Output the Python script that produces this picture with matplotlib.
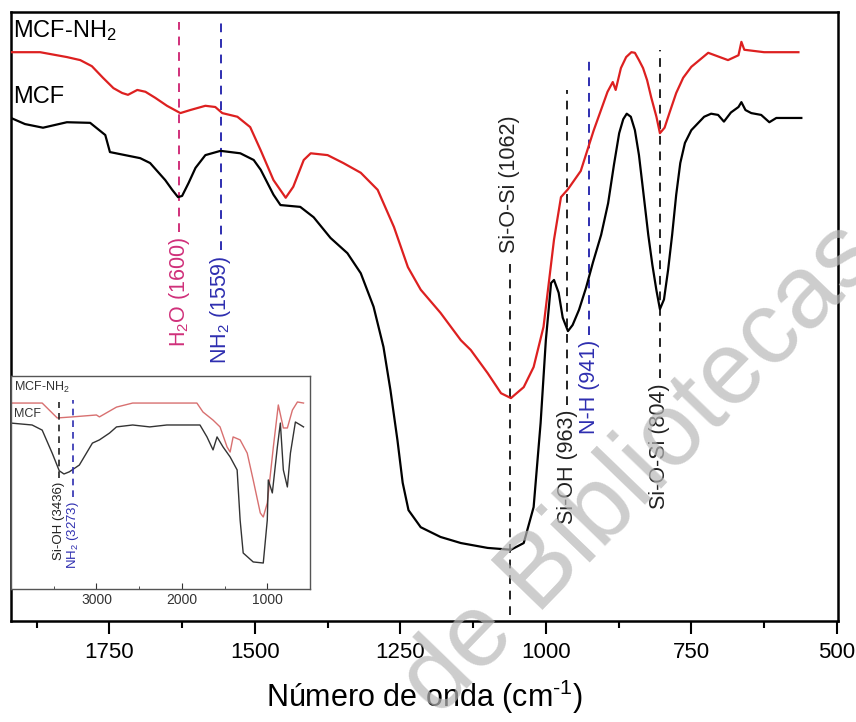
import numpy as np
import matplotlib
matplotlib.use('Agg')
import matplotlib.pyplot as plt
from matplotlib.ticker import MultipleLocator, FixedLocator

plt.rcParams['font.family'] = ['Liberation Sans', 'DejaVu Sans']
plt.rcParams['mathtext.fontset'] = 'custom'
plt.rcParams['mathtext.rm'] = 'Liberation Sans'
plt.rcParams['mathtext.it'] = 'Liberation Sans:italic'
plt.rcParams['mathtext.default'] = 'regular'

# ---- main spectrum (wavenumber cm-1, transmittance a.u.) ----
mcf_wn = [1919, 1895, 1864, 1823, 1783, 1757, 1749, 1723, 1697, 1680, 1654, 1642,
          1632, 1625, 1614, 1602, 1585, 1559, 1525, 1502, 1490, 1468, 1456, 1422,
          1399, 1370, 1341, 1318, 1296, 1279, 1267, 1255, 1246, 1236, 1215, 1181,
          1146, 1100, 1060, 1038, 1021, 1009, 1000, 991, 986, 978, 971, 962, 954,
          943, 931, 919, 905, 893, 883, 874, 867, 861, 854, 847, 840, 833, 824,
          817, 810, 804, 797, 790, 783, 776, 769, 761, 750, 742, 728, 716, 704,
          694, 682, 669, 664, 657, 647, 630, 616, 604, 587, 561]
mcf_t = [82.6, 81.6, 81.0, 81.9, 81.8, 79.8, 77.0, 76.5, 76.0, 75.2, 72.4, 70.8,
         69.6, 69.8, 71.9, 74.4, 76.5, 77.2, 76.8, 75.7, 74.1, 70.0, 68.3, 68.0,
         66.3, 62.9, 60.4, 57.1, 51.6, 45.0, 37.9, 29.7, 22.7, 18.2, 15.4, 13.8,
         12.8, 12.0, 11.7, 12.8, 18.7, 32.5, 46.1, 55.5, 56.0, 53.9, 49.8, 47.6, 48.6,
         51.1, 54.7, 58.9, 63.4, 68.6, 74.9, 80.1, 82.4, 83.3, 82.8, 80.6, 76.5, 70.8, 63.4,
         58.5, 54.3, 51.2, 52.8, 57.6, 63.4, 70.0, 75.2, 78.5, 80.6, 81.4, 82.8, 83.3, 83.1,
         82.0, 83.5, 84.4, 85.2, 83.9, 83.4, 83.1, 81.9, 82.6, 82.6, 82.6]

nh2_wn = [1919, 1869, 1823, 1800, 1780, 1761, 1743, 1728, 1718, 1702, 1688, 1671,
          1651, 1628, 1611, 1585, 1568, 1556, 1530, 1508, 1490, 1468, 1447, 1434,
          1416, 1404, 1375, 1348, 1318, 1289, 1261, 1237, 1215, 1181, 1146, 1129,
          1100, 1077, 1060, 1038, 1021, 1004, 986, 974, 962, 940, 918, 894, 885,
          880, 871, 862, 853, 847, 840, 833, 826, 819, 810, 804, 796, 787, 776,
          764, 750, 721, 687, 669, 664, 659, 625, 566]
nh2_t = [93.4, 93.4, 92.6, 92.1, 91.1, 89.2, 87.5, 86.7, 86.4, 87.2, 86.9, 85.9,
         84.6, 83.4, 83.9, 84.6, 84.4, 83.4, 82.8, 81.1, 77.3, 72.4, 69.5, 71.3,
         75.7, 76.8, 76.5, 75.2, 73.6, 70.8, 64.7, 58.1, 54.4, 50.6, 46.1, 44.5,
         40.7, 37.4, 36.6, 38.4, 41.7, 48.3, 62.6, 69.6, 70.9, 73.9, 80.5, 86.9, 88.5,
         87.2, 90.8, 92.6, 93.4, 93.3, 92.1, 90.8, 88.8, 86.0, 82.8, 80.1, 81.0, 83.6, 86.7,
         89.2, 91.0, 93.3, 92.1, 92.9, 95.1, 93.8, 93.4, 93.4]

# band markers: position, label, colour, line bottom/top, text side
bands = [
    (1630, r'H$_2$O (1600)', '#d0307a', 63.9, 98.4, 'below'),
    (1559, r'NH$_2$ (1559)', '#2e2eb0', 60.9, 98.4, 'below'),
    (1062, 'Si-O-Si (1062)', '#222222', 1.0, 59.6, 'above'),
    (963, 'Si-OH (963)', '#222222', 35.5, 87.2, 'below'),
    (925, 'N-H (941)', '#2e2eb0', 47.0, 92.1, 'below'),
    (804, 'Si-O-Si (804)', '#222222', 39.9, 93.8, 'below'),
]

# ---- inset: full range spectrum ----
in_mcf_wn = [4000, 3753, 3635, 3518, 3435, 3380, 3318, 3200, 3047, 2965, 2847, 2765,
             2576, 2376, 2176, 1788, 1706, 1635, 1588, 1518, 1435, 1353, 1318, 1282,
             1165, 1047, 1000, 988, 941, 882, 847, 812, 765, 729, 671, 612, 576]
in_mcf_t = [77.9, 77.0, 74.6, 63.8, 55.5, 54.0, 55.0, 58.2, 68.5, 70.0, 73.2, 76.1,
            77.0, 76.1, 77.0, 77.0, 71.4, 65.3, 71.4, 66.7, 62.0, 55.9, 32.4, 16.9,
            12.7, 12.2, 32.4, 51.2, 45.1, 66.7, 77.9, 55.9, 47.9, 63.8, 78.4, 77.0, 76.1]
in_nh2_wn = [4000, 3635, 3459, 3282, 3000, 2965, 2765, 2576, 2376, 2176, 1824, 1753,
             1635, 1553, 1471, 1435, 1400, 1318, 1235, 1165, 1082, 1047, 1000, 929,
             871, 812, 765, 706, 647, 576]
in_nh2_t = [87.3, 87.3, 80.3, 80.8, 81.7, 80.8, 85.4, 87.3, 87.3, 87.3, 87.3, 83.1,
            79.3, 76.1, 66.7, 64.3, 71.4, 70.0, 63.8, 51.2, 35.7, 33.8, 40.4, 66.7,
            86.4, 75.6, 75.6, 84.0, 87.8, 87.3]

fig = plt.figure(figsize=(8.56, 7.22), dpi=100)
ax = fig.add_axes([11/856, 101/722, 827/856, 609/722])

ax.plot(nh2_wn, nh2_t, color='#dd2020', lw=1.6, zorder=3)
ax.plot(mcf_wn, mcf_t, color='black', lw=1.6, zorder=3)

for pos, lab, col, bot, top, where in bands:
    ax.plot([pos, pos], [bot, top], color=col, lw=1.4, dashes=(4.5, 3.5), zorder=2)
    if where == 'below':
        ax.text(pos, bot - 0.8, lab, rotation=90, ha='center', va='top',
                color=col, fontsize=15.5)
    else:
        ax.text(pos, top + 0.8, lab, rotation=90, ha='center', va='bottom',
                color=col, fontsize=15.5)

ax.text(1915, 97, r'MCF-NH$_2$', fontsize=17, va='center', ha='left')
ax.text(1915, 86, 'MCF', fontsize=17, va='center', ha='left')

ax.set_xlim(1919, 498)
ax.set_ylim(0, 100)
ax.xaxis.set_major_locator(MultipleLocator(250))
ax.xaxis.set_minor_locator(MultipleLocator(125))
ax.tick_params(axis='x', which='major', direction='out', length=9, width=1.5,
               labelsize=16, pad=6)
ax.tick_params(axis='x', which='minor', direction='out', length=5, width=1.5)
ax.set_yticks([])
for s in ax.spines.values():
    s.set_linewidth(1.8)
ax.set_xlabel(r'Número de onda (cm$^{\text{-}1}$)', fontsize=22, labelpad=11)

# inset
axi = fig.add_axes([11/856, 133/722, 299/856, 213/722])
axi.plot(in_nh2_wn, in_nh2_t, color='#d87070', lw=1.0)
axi.plot(in_mcf_wn, in_mcf_t, color='#333333', lw=1.0)
axi.plot([3436, 3436], [52, 87.8], color='#222222', lw=1.2, dashes=(4, 3))
axi.plot([3273, 3273], [43.2, 88.7], color='#2e2eb0', lw=1.2, dashes=(4, 3))
axi.text(3436, 50.5, 'Si-OH (3436)', rotation=90, ha='center', va='top',
         fontsize=9.5, color='#222222')
axi.text(3273, 41.5, r'NH$_2$ (3273)', rotation=90, ha='center', va='top',
         fontsize=9.5, color='#2e2eb0')
axi.text(3965, 94.4, r'MCF-NH$_2$', fontsize=9, va='center', ha='left', color='#333333')
axi.text(3965, 82, 'MCF', fontsize=9, va='center', ha='left', color='#333333')
axi.set_xlim(4000, 500)
axi.set_ylim(0, 100)
axi.xaxis.set_major_locator(FixedLocator([3000, 2000, 1000]))
axi.xaxis.set_minor_locator(FixedLocator([3500, 2500, 1500, 500]))
axi.tick_params(axis='x', which='major', direction='in', length=4, labelsize=10,
                colors='#333333', pad=3)
axi.tick_params(axis='x', which='minor', direction='in', length=2, color='#333333')
axi.set_yticks([])
for s in axi.spines.values():
    s.set_linewidth(1.0)
    s.set_color('#555555')

# watermark
fig.text(0.748, 0.35, 'de Bibliotecas', rotation=46, fontsize=74, color='#b8b8b8',
         alpha=0.7, ha='center', va='center', rotation_mode='anchor', zorder=10)

fig.savefig('out.png', dpi=100)
